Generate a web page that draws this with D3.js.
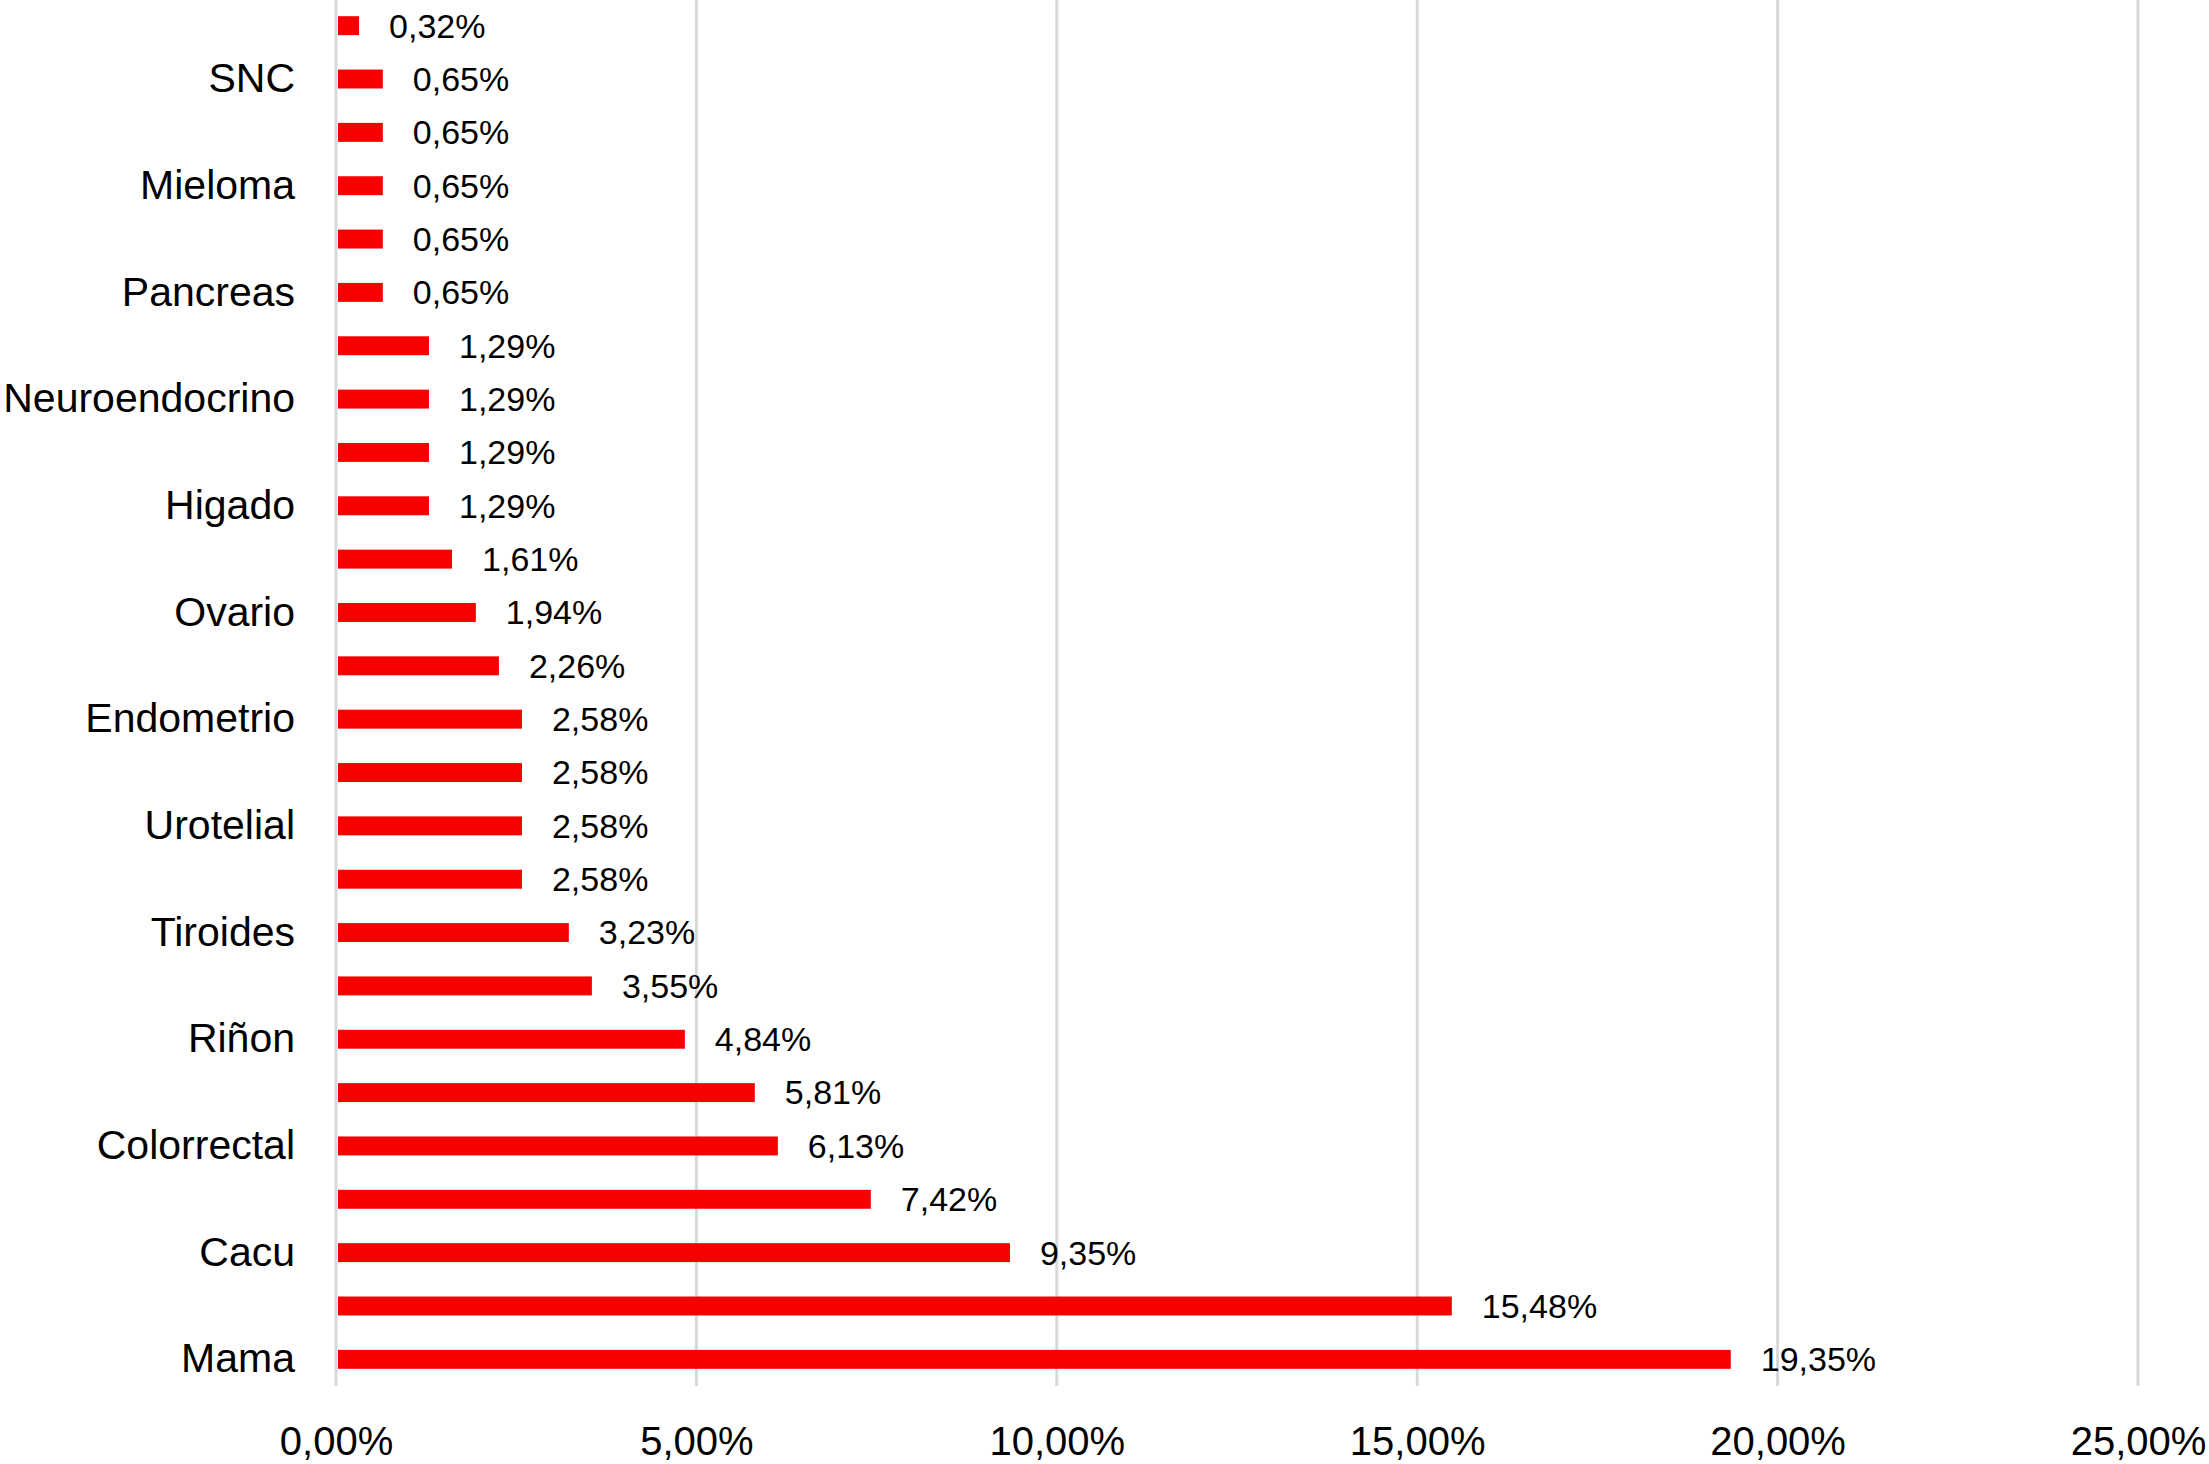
<!DOCTYPE html>
<html>
<head>
<meta charset="utf-8">
<script src="https://cdn.jsdelivr.net/npm/d3@7"></script>
<style>
  html, body { margin: 0; padding: 0; background: #fff; }
  svg { display: block; }
  text { font-family: "Liberation Sans", Arial, Helvetica, sans-serif; fill: #000; }
</style>
</head>
<body>
<svg id="chart" width="2209" height="1464"></svg>
<script>
// Categories listed top to bottom; empty strings are categories whose label is skipped on the axis
const categories = ["", "SNC", "", "Mieloma", "", "Pancreas", "", "Neuroendocrino", "", "Higado",
  "", "Ovario", "", "Endometrio", "", "Urotelial", "", "Tiroides", "", "Riñon",
  "", "Colorrectal", "", "Cacu", "", "Mama"];
const values = [0.32, 0.65, 0.65, 0.65, 0.65, 0.65, 1.29, 1.29, 1.29, 1.29,
  1.61, 1.94, 2.26, 2.58, 2.58, 2.58, 2.58, 3.23, 3.55, 4.84,
  5.81, 6.13, 7.42, 9.35, 15.48, 19.35];
const xTicks = [0, 5, 10, 15, 20, 25];

const svg = d3.select("#chart");
const fmt = v => v.toFixed(2).replace(".", ",") + "%";

const x = d3.scaleLinear().domain([0, 25]).range([336, 2138]);
const y = d3.scaleBand()
  .domain(d3.range(categories.length))
  .range([-1, 1386])
  .paddingInner(0.645)
  .paddingOuter(0.3225);

// gridlines
svg.append("g").selectAll("line").data(xTicks).join("line")
  .attr("x1", d => x(d)).attr("x2", d => x(d))
  .attr("y1", 0).attr("y2", 1386)
  .attr("stroke", "#d9d9d9").attr("stroke-width", 3);

// bars
svg.append("g").selectAll("rect").data(values).join("rect")
  .attr("x", x(0) + 2)
  .attr("y", (d, i) => y(i))
  .attr("width", d => x(d) - x(0) - 2)
  .attr("height", y.bandwidth())
  .attr("fill", "#f60000");

// value labels
svg.append("g").selectAll("text").data(values).join("text")
  .attr("x", d => x(d) + 30)
  .attr("y", (d, i) => y(i) + y.bandwidth() / 2)
  .attr("dy", "0.35em")
  .attr("font-size", 34)
  .text(d => fmt(d));

// y axis labels
const yAxis = d3.axisLeft(y).tickSize(0).tickPadding(0).tickFormat(i => categories[i]);
const gy = svg.append("g").attr("transform", `translate(${x(0) - 41},0)`).call(yAxis);
gy.select(".domain").remove();
gy.selectAll("text").attr("font-size", 41).attr("font-family", null).attr("fill", "#000");

// x axis labels
const xAxis = d3.axisBottom(x).tickValues(xTicks).tickSize(0).tickPadding(0)
  .tickFormat(d => d.toFixed(2).replace(".", ",") + "%");
const gx = svg.append("g").attr("transform", "translate(0,1427)").call(xAxis);
gx.select(".domain").remove();
gx.selectAll("text").attr("font-size", 40).attr("font-family", null).attr("fill", "#000");
</script>
</body>
</html>
